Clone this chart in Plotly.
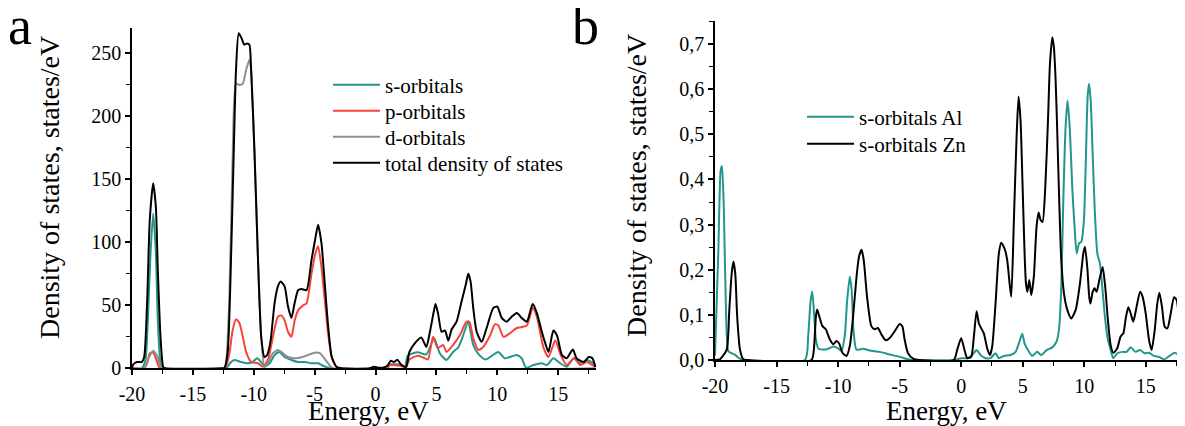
import plotly.graph_objects as go

# ---------------- Panel a : PDOS (states/eV) ----------------
e_total = [-20, -19.9, -19.6, -19.2, -19.0, -18.76, -18.54, -18.26, -18.04, -17.88, -17.66, -17.44, -17.3,
           -12.6, -12.42, -12.15, -11.93, -11.65, -11.46, -11.24, -11.0, -10.77, -10.55, -10.36, -10.22,
           -9.94, -9.67, -9.39, -9.12, -8.9, -8.62, -8.29, -8.02, -7.8, -7.47, -7.19, -6.91, -6.64, -6.36,
           -6.09, -5.67, -5.26, -4.93, -4.72, -4.44, -4.17, -3.89, -3.6, -3.2, -2.8, -0.5, -0.14, 0.2, 0.6,
           0.97, 1.25, 1.5, 1.8, 2.1, 2.5, 2.78, 3.2, 3.75, 4.17, 4.44, 4.72, 4.92, 5.14, 5.42, 5.7, 5.97,
           6.25, 6.65, 7.06, 7.42, 7.61, 7.8, 8.02, 8.3, 8.71, 9.12, 9.67, 10.0, 10.36, 10.77, 11.18, 11.6,
           12.0, 12.42, 12.9, 13.24, 13.65, 13.93, 14.2, 14.6, 14.9, 15.3, 15.7, 16.2, 16.5, 17.1, 17.5,
           17.8, 18.05]
dos_total = [0, 3, 5, 5, 9, 52, 118, 147, 128, 78, 25, 1, 0,
             0, 0, 12, 65, 170, 237, 266, 262, 257, 258, 257, 237,
             171, 91, 25, 9, 10.6, 22, 52, 65, 69, 65, 49, 40, 52, 62,
             63, 62, 86, 104, 114, 99, 67, 33, 9, 1, 0, 0, 1.3, 0.5, 0.5,
             2, 6, 5, 6.7, 3, 1, 13, 19.6, 24.5, 17, 27.8, 42, 51, 43, 29, 30, 22,
             31, 37, 53, 67, 75, 69, 48, 29, 21, 32, 48, 49, 40, 37, 41, 44,
             40, 37, 51, 44, 29, 20, 13, 30, 26, 10.6, 8, 15, 8, 5, 9,
             8, 1]

e_p = [-20, -19.0, -18.76, -18.54, -18.26, -17.99, -17.7, -12.5, -12.29, -12.0, -11.74, -11.46, -11.18,
       -10.9, -10.63, -10.22, -9.67, -9.26, -8.84, -8.43, -8.02, -7.74, -7.47, -7.19, -6.91, -6.64, -6.36,
       -5.95, -5.67, -5.26, -4.95, -4.72, -4.44, -4.17, -3.89, -3.6, -3.2, -2.8, 0.9, 1.2, 1.6, 2.0, 2.5,
       2.78, 3.47, 3.9, 4.3, 4.72, 5.1, 5.55, 5.82, 6.37, 6.9, 7.47, 7.7, 8.02, 8.43, 8.85, 9.4, 9.8,
       10.08, 10.5, 11.04, 11.6, 12.42, 12.9, 13.24, 13.8, 14.2, 14.75, 15.2, 15.7, 16.3, 16.8, 17.36,
       17.9, 18.05]
dos_p = [0, 0, 4, 12, 12.4, 6.6, 0, 0, 1.3, 12, 30, 39, 36,
         25, 13, 5, 4, 1.3, 6.6, 25, 41, 42, 38, 29, 25, 38, 46,
         50, 51.6, 75, 91, 97, 80, 54, 27, 9, 1, 0, 0, 2.5, 2.5, 2, 0.8,
         7, 10, 8.6, 7, 25, 16, 18.5, 13, 18.5, 26, 37, 37, 24, 14.5, 17, 26, 35,
         34, 25, 28, 32, 34, 48, 41, 16, 9, 22, 10.6, 2.6, 8, 2.6, 5,
         2, 1.5]

e_s = [-20, -19.2, -18.9, -18.7, -18.48, -18.26, -18.04, -17.88, -17.66, -17.5, -12.4, -12.15, -11.87,
       -11.6, -11.05, -10.5, -10.1, -9.72, -9.4, -9.12, -8.7, -8.29, -7.88, -7.47, -6.91, -6.36, -5.8,
       -5.26, -4.7, -4.3, -3.75, 0.9, 1.2, 2.0, 2.4, 2.64, 3.47, 4.17, 4.8, 5.27, 5.82, 6.37, 6.8, 7.06,
       7.61, 8.02, 8.47, 9.03, 10.08, 10.6, 11.6, 12.0, 12.36, 12.97, 13.65, 14.07, 14.6, 15.16, 15.7,
       16.26, 16.8, 17.36, 17.9, 18.05]
dos_s = [0, 0, 6.6, 38, 91, 123, 91, 38, 4, 0, 0, 1.3, 5,
         6.6, 5, 4, 5, 8, 5, 1.3, 4, 10.6, 13, 9, 6.6, 5, 5,
         4, 4, 2, 0, 0, 3, 3, 1, 10, 12.7, 11, 24, 12, 6.6, 13, 16.7, 22.5,
         36.5, 18.5, 11, 7, 13, 8, 10.6, 8, 0.5, 2.6, 4, 2.6, 8, 4, 1.3,
         8, 4, 6.6, 4, 3]

e_d = [-20, -19.0, -18.6, -18.26, -17.9, -17.66, -17.5, -12.5, -12.3, -12.0, -11.74, -11.46, -11.18,
       -10.9, -10.63, -10.36, -10.22, -9.94, -9.67, -9.39, -9.12, -8.84, -8.43, -8.02, -7.74, -7.19,
       -6.64, -6.09, -5.54, -5.0, -4.57, -4.3, -3.9, -3.5, 18.05]
dos_d = [0, 0, 9, 14, 9, 1.3, 0, 0, 3, 58, 165, 226, 225,
         226, 237, 245, 237, 171, 91, 25, 1.3, 4, 12, 14.5, 13, 9,
         8, 8.7, 10.6, 12.4, 12, 9, 4, 0, 0]

# ---------------- Panel b : s-orbitals Al / Zn ----------------
e_al = [-20, -19.73, -19.54, -19.43, -19.27, -19.1, -18.92, -18.65, -18.38, -18.1, -17.7, -12.7, -12.43,
        -12.24, -12.1, -11.97, -11.8, -11.6, -11.2, -10.8, -10.4, -10.08, -9.73, -9.46, -9.27, -9.05,
        -8.9, -8.73, -8.51, -7.97, -7.43, -6.62, -5.8, -5.0, -4.3, -3.9, -0.6, 0.0, 0.49, 0.9, 1.25,
        1.57, 1.98, 2.38, 2.79, 3.06, 3.47, 4.01, 4.42, 4.77, 4.96, 5.15, 5.42, 5.77, 6.18, 6.5, 6.94,
        7.4, 7.75, 7.94, 8.13, 8.29, 8.48, 8.64, 8.83, 9.02, 9.21, 9.38, 9.57, 9.76, 9.97, 10.14, 10.27,
        10.38, 10.52, 10.68, 10.84, 11.06, 11.27, 11.46, 11.65, 11.87, 12.14, 12.36, 12.68, 13.09,
        13.44, 13.77, 14.17, 14.53, 14.9, 15.26, 15.66, 16.07, 16.48, 17.02, 17.34, 17.7, 17.97]
dos_al = [0.01, 0.24, 0.42, 0.43, 0.32, 0.1, 0.02, 0.015, 0.012, 0.005, 0, 0, 0.053,
          0.13, 0.152, 0.11, 0.045, 0.025, 0.023, 0.025, 0.03, 0.027, 0.02, 0.053, 0.13, 0.185,
          0.155, 0.06, 0.023, 0.025, 0.021, 0.018, 0.012, 0.007, 0.0015, 0, 0, 0.004, 0.004, 0.011, 0.022,
          0.011, 0.004, 0.004, 0.015, 0.004, 0.009, 0.011, 0.018, 0.044, 0.058, 0.037, 0.022, 0.009, 0.018, 0.011, 0.022,
          0.028, 0.041, 0.066, 0.162, 0.347, 0.516, 0.575, 0.509, 0.383, 0.295, 0.236, 0.258, 0.262, 0.31, 0.457, 0.583,
          0.612, 0.575, 0.457, 0.339, 0.236, 0.214, 0.162, 0.103, 0.052, 0.022, 0.004, 0.015, 0.018,
          0.018, 0.028, 0.018, 0.022, 0.015, 0.016, 0.009, 0.007, 0.0015, 0.011, 0.016, 0.011, 0.006]

e_zn = [-20, -19.6, -19.05, -18.84, -18.65, -18.5, -18.35, -18.2, -17.97, -17.7, -17.4, -12.16, -11.97,
        -11.8, -11.7, -11.49, -11.27, -11.0, -10.68, -10.4, -10.14, -9.92, -9.65, -9.32, -9.05, -8.78,
        -8.5, -8.3, -8.1, -7.92, -7.65, -7.3, -7.03, -6.76, -6.49, -6.14, -5.8, -5.4, -5.0, -4.78, -4.6,
        -4.32, -3.9, -3.4, -0.6, -0.33, 0, 0.27, 0.49, 0.81, 1.03, 1.25, 1.44, 1.63, 1.84, 2.11, 2.33,
        2.52, 2.79, 3.06, 3.25, 3.52, 3.74, 3.93, 4.07, 4.28, 4.5, 4.66, 4.82, 4.99, 5.15, 5.26, 5.37,
        5.53, 5.69, 5.9, 6.12, 6.29, 6.45, 6.61, 6.83, 7.05, 7.21, 7.4, 7.53, 7.67, 7.8, 7.97, 8.13,
        8.35, 8.62, 8.94, 9.3, 9.65, 9.92, 10.05, 10.24, 10.4, 10.5, 10.68, 10.84, 11.0, 11.22, 11.49,
        11.7, 11.92, 12.14, 12.36, 12.68, 12.95, 13.17, 13.39, 13.58, 13.77, 13.98, 14.2, 14.53, 14.74,
        14.99, 15.26, 15.47, 15.72, 15.93, 16.1, 16.31, 16.53, 16.75, 17.02, 17.29, 17.5, 17.72, 17.94]
dos_zn = [0, 0.0015, 0.023, 0.11, 0.19, 0.218, 0.19, 0.097, 0.023, 0.0015, 0, 0, 0.023,
          0.097, 0.112, 0.093, 0.075, 0.068, 0.046, 0.035, 0.042, 0.037, 0.016, 0.009, 0.031, 0.097,
          0.185, 0.229, 0.244, 0.222, 0.141, 0.075, 0.068, 0.071, 0.057, 0.044, 0.049, 0.064, 0.08, 0.075, 0.046,
          0.015, 0.003, 0, 0, 0.022, 0.048, 0.022, 0.004, 0.007, 0.052, 0.108, 0.081, 0.07, 0.059, 0.026, 0.011,
          0.03, 0.125, 0.236, 0.26, 0.247, 0.221, 0.17, 0.14, 0.31, 0.494, 0.584, 0.531, 0.383, 0.236, 0.17, 0.151,
          0.177, 0.144, 0.184, 0.295, 0.327, 0.31, 0.306, 0.383, 0.531, 0.656, 0.715, 0.693, 0.62, 0.509, 0.347, 0.221,
          0.147, 0.111, 0.092, 0.111, 0.17, 0.236, 0.251, 0.206, 0.14, 0.125, 0.151, 0.159, 0.151, 0.177, 0.206,
          0.162, 0.088, 0.033, 0.016, 0.026, 0.052, 0.059, 0.096, 0.117, 0.103, 0.085, 0.111, 0.151, 0.14,
          0.103, 0.044, 0.022, 0.066, 0.125, 0.149, 0.118, 0.074, 0.07, 0.103, 0.139, 0.133, 0.088, 0.038]

# tick labels (hyphen minus as in the original figure)
x_tickvals = [-20, -15, -10, -5, 0, 5, 10, 15]
x_ticktext = ["-20", "-15", "-10", "-5", "0", "5", "10", "15"]

for name, a, b in [("total", e_total, dos_total), ("p", e_p, dos_p), ("s", e_s, dos_s),
                   ("d", e_d, dos_d), ("al", e_al, dos_al), ("zn", e_zn, dos_zn)]:
    if len(a) != len(b):
        raise SystemExit(f"length mismatch {name}: {len(a)} vs {len(b)}")

TEAL = "#21968c"
RED = "#f5443a"
GRAY = "#8e8e8a"
BLACK = "#000000"
FONT = "'Liberation Serif', 'Times New Roman', Times, 'DejaVu Serif', serif"

# the page body has an 8px margin: the figure is drawn 8px right/down of the window corner
OFF = 8
W, H = 1185 - OFF, 426 - OFF


def px_x(p):  # window pixel -> paper fraction
    return (p - OFF) / W


def px_y(p):
    return 1 - (p - OFF) / H


fig = go.Figure()

line_kw = dict(shape="spline", smoothing=0.6, width=2)

series_a = [(e_s, dos_s, "s-orbitals", TEAL), (e_p, dos_p, "p-orbitals", RED),
            (e_d, dos_d, "d-orbitals", GRAY), (e_total, dos_total, "total density of states", BLACK)]
legend_y_a = [85, 111, 137, 163]
series_b = [(e_al, dos_al, "s-orbitals Al", TEAL), (e_zn, dos_zn, "s-orbitals Zn", BLACK)]
legend_y_b = [117, 144]

legend_font = dict(family=FONT, size=21, color="black")
legends = {}
k = 1
for (ex, vy, nm, col), ly in zip(series_a, legend_y_a):
    key = "legend" if k == 1 else f"legend{k}"
    fig.add_trace(go.Scatter(x=ex, y=vy, name=nm, mode="lines", line=dict(color=col, **line_kw),
                             xaxis="x", yaxis="y", legend=key, showlegend=True))
    legends[key] = dict(x=px_x(328), y=px_y(ly), xanchor="left", yanchor="middle", font=legend_font,
                        bgcolor="rgba(0,0,0,0)", itemwidth=47)
    k += 1
for (ex, vy, nm, col), ly in zip(series_b, legend_y_b):
    key = f"legend{k}"
    fig.add_trace(go.Scatter(x=ex, y=vy, name=nm, mode="lines", line=dict(color=col, **line_kw),
                             xaxis="x2", yaxis="y2", legend=key, showlegend=True))
    legends[key] = dict(x=px_x(802), y=px_y(ly), xanchor="left", yanchor="middle", font=legend_font,
                        bgcolor="rgba(0,0,0,0)", itemwidth=47)
    k += 1

axis_common = dict(showline=True, linecolor="black", linewidth=1.5, ticks="outside", ticklen=5,
                   tickwidth=1.5, tickcolor="black", showgrid=False, zeroline=False,
                   tickfont=dict(family=FONT, size=20, color="black"), automargin=False,
                   fixedrange=True)
minor_common = dict(ticks="outside", ticklen=4, tickwidth=1.2, tickcolor="black", showgrid=False)

fig.update_layout(
    width=W, height=H, autosize=False,
    margin=dict(l=0, r=0, t=0, b=0),
    paper_bgcolor="white", plot_bgcolor="white",
    separators=", ",
    showlegend=True,
    font=dict(family=FONT, color="black"),
    xaxis=dict(domain=[px_x(132), px_x(596)], range=[-20, 18.1], tickmode="array",
               tickvals=x_tickvals, ticktext=x_ticktext,
               minor=dict(dtick=2.5, tick0=0, **minor_common), anchor="y", ticklabelstandoff=2,
               **axis_common),
    yaxis=dict(domain=[px_y(368.3), px_y(28.3)], range=[0, 270], dtick=50, tick0=0,
               minor=dict(dtick=25, **minor_common), anchor="x", **axis_common),
    xaxis2=dict(domain=[px_x(715), px_x(1184)], range=[-20, 18.1], tickmode="array",
                tickvals=x_tickvals, ticktext=x_ticktext,
                minor=dict(dtick=2.5, tick0=0, **minor_common), anchor="y2", ticklabelstandoff=2,
                **axis_common),
    yaxis2=dict(domain=[px_y(360), px_y(21)], range=[0, 0.751], dtick=0.1, tick0=0,
                tickformat=".1f", minor=dict(dtick=0.05, **minor_common), anchor="x2",
                **axis_common),
    **legends,
)

annots = [
    dict(text="a", x=px_x(6), y=px_y(26), xanchor="left", yanchor="middle", font=dict(size=54)),
    dict(text="b", x=px_x(570), y=px_y(26), xanchor="left", yanchor="middle", font=dict(size=54)),
    dict(text="Density of states, states/eV", x=px_x(49), y=px_y(188), textangle=-90,
         xanchor="center", yanchor="middle", font=dict(size=28)),
    dict(text="Density of states, states/eV", x=px_x(636), y=px_y(186), textangle=-90,
         xanchor="center", yanchor="middle", font=dict(size=28)),
    dict(text="Energy, eV", x=px_x(368), y=px_y(411), xanchor="center", yanchor="middle",
         font=dict(size=27)),
    dict(text="Energy, eV", x=px_x(946), y=px_y(411), xanchor="center", yanchor="middle",
         font=dict(size=27)),
]
for a in annots:
    a.update(xref="paper", yref="paper", showarrow=False)
    a["font"].update(family=FONT, color="black")
fig.update_layout(annotations=annots)

fig.write_html("out.html")
